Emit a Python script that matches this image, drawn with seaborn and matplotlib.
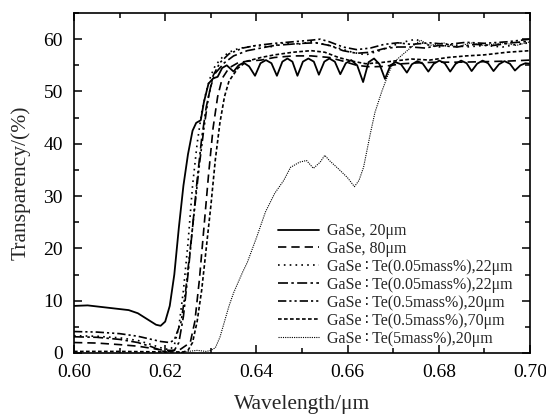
import numpy as np
import pandas as pd
import seaborn as sns
import matplotlib.pyplot as plt
from matplotlib.ticker import MultipleLocator

sns.set_style('ticks')
plt.rcParams['font.family'] = ['Liberation Serif', 'DejaVu Sans', 'Noto Sans CJK SC']

# GaSe, 20um (solid)
wl_a = [0.600, 0.603, 0.606, 0.609, 0.612, 0.614, 0.616, 0.618, 0.619, 0.620, 0.621, 0.622,
        0.623, 0.624, 0.625, 0.626, 0.6268, 0.6278, 0.6285, 0.6295, 0.6305, 0.6315, 0.6325,
        0.6335, 0.6350, 0.6361, 0.6372, 0.6384, 0.6397, 0.6409, 0.6421, 0.6433, 0.6445,
        0.6457, 0.6468, 0.6479, 0.6490, 0.6502, 0.6514, 0.6526, 0.6537, 0.6549, 0.6560,
        0.6572, 0.6584, 0.6596, 0.6608, 0.6621, 0.6634, 0.6646, 0.6658, 0.6670, 0.6682,
        0.6694, 0.6705, 0.6717, 0.6730, 0.6741, 0.6753, 0.6765, 0.6777, 0.6789, 0.6801,
        0.6813, 0.6825, 0.6837, 0.6849, 0.6861, 0.6872, 0.6884, 0.6896, 0.6908, 0.6920,
        0.6932, 0.6944, 0.6956, 0.6967, 0.6979, 0.6990, 0.7000]
tr_a = [9.0, 9.1, 8.8, 8.5, 8.2, 7.6, 6.5, 5.4, 5.2, 6.0, 9.0, 15.0,
        24.0, 32.0, 38.0, 42.5, 44.0, 44.5, 48.0, 51.5, 52.5, 52.8, 54.5,
        55.0, 53.8, 55.0, 55.5, 54.8, 53.0, 55.4, 56.0, 55.4, 53.0,
        55.7, 56.3, 55.7, 53.0, 55.7, 56.3, 55.7, 53.2, 55.7, 56.3,
        55.7, 53.3, 55.4, 56.0, 55.0, 51.8, 55.6, 56.3, 55.2, 52.4,
        55.0, 55.6, 55.2, 53.6, 55.2, 55.8, 55.3, 53.8, 55.3, 55.9,
        55.4, 53.8, 55.3, 55.9, 55.4, 53.9, 55.3, 55.9, 55.4, 53.9,
        55.2, 55.8, 55.3, 54.0, 55.0, 55.4, 55.3]

# GaSe, 80um (dashed)
wl_b = [0.600, 0.605, 0.610, 0.614, 0.617, 0.619, 0.621, 0.623, 0.6255, 0.6265, 0.6275,
        0.6285, 0.6295, 0.6305, 0.6315, 0.6325, 0.634, 0.636, 0.638, 0.641, 0.644, 0.648,
        0.652, 0.656, 0.659, 0.662, 0.665, 0.668, 0.672, 0.676, 0.680, 0.685, 0.690,
        0.695, 0.700]
tr_b = [2.0, 1.9, 1.6, 1.3, 0.9, 0.6, 0.5, 0.5, 2.0, 6.0, 14.0,
        24.0, 34.0, 43.0, 49.0, 52.5, 54.5, 55.5, 55.8, 56.0, 56.5, 56.8,
        56.8, 56.5, 55.8, 55.0, 54.7, 54.8, 55.3, 55.5, 55.6, 55.6, 55.7,
        55.8, 56.0]

# GaSe:Te(0.05mass%),22um (dotted)
wl_c = [0.600, 0.605, 0.610, 0.614, 0.617, 0.619, 0.621, 0.622, 0.623, 0.624, 0.625,
        0.626, 0.627, 0.628, 0.629, 0.630, 0.631, 0.6325, 0.634, 0.636, 0.638, 0.640,
        0.643, 0.646, 0.649, 0.652, 0.655, 0.658, 0.661, 0.664, 0.667, 0.670, 0.6725,
        0.675, 0.677, 0.680, 0.683, 0.686, 0.690, 0.694, 0.697, 0.700]
tr_c = [3.3, 3.2, 2.9, 2.4, 1.6, 1.0, 0.6, 1.5, 5.0, 12.0, 21.0,
        32.0, 40.0, 46.0, 50.0, 53.0, 55.0, 56.5, 57.5, 58.2, 58.5, 58.8,
        58.5, 59.3, 59.0, 59.5, 59.0, 58.3, 57.5, 57.0, 57.8, 58.8, 59.5,
        60.0, 59.0, 58.5, 59.0, 58.5, 58.8, 58.5, 59.0, 59.3]

# GaSe:Te(0.05mass%),22um (dash-dot)
wl_d = [0.600, 0.605, 0.610, 0.614, 0.617, 0.619, 0.620, 0.622, 0.623, 0.624, 0.625,
        0.626, 0.627, 0.628, 0.629, 0.630, 0.631, 0.633, 0.635, 0.638, 0.641, 0.644,
        0.647, 0.650, 0.653, 0.656, 0.659, 0.662, 0.665, 0.668, 0.671, 0.674, 0.677,
        0.680, 0.684, 0.688, 0.692, 0.696, 0.700]
tr_d = [3.1, 3.0, 2.6, 2.0, 1.2, 0.5, 0.2, 0.5, 2.0, 7.0, 15.0,
        24.0, 33.0, 41.0, 47.0, 51.0, 53.5, 55.5, 56.8, 57.8, 58.3, 58.8,
        59.0, 59.2, 59.3, 58.8, 57.8, 57.3, 57.5, 58.2, 58.5, 58.5, 58.3,
        58.8, 58.5, 59.0, 58.8, 59.3, 59.6]

# GaSe:Te(0.5mass%),20um (dash-dot-dot)
wl_e = [0.600, 0.605, 0.610, 0.614, 0.617, 0.619, 0.621, 0.622, 0.6235, 0.6245, 0.6255,
        0.6265, 0.6275, 0.6285, 0.6295, 0.6305, 0.632, 0.634, 0.637, 0.640, 0.644, 0.648,
        0.652, 0.654, 0.656, 0.659, 0.662, 0.665, 0.668, 0.671, 0.674, 0.678, 0.682,
        0.686, 0.690, 0.695, 0.700]
tr_e = [4.1, 4.0, 3.7, 3.2, 2.6, 2.2, 2.0, 2.5, 6.0, 12.0, 20.0,
        28.0, 36.0, 43.0, 49.0, 53.0, 55.5, 57.2, 58.3, 58.8, 59.2, 59.5,
        59.8, 60.0, 59.5, 58.5, 58.0, 58.3, 59.0, 59.3, 59.0, 59.3, 59.0,
        59.4, 59.2, 59.5, 60.0]

# GaSe:Te(0.5mass%),70um (short dashes)
wl_f = [0.600, 0.610, 0.620, 0.624, 0.625, 0.626, 0.627, 0.628, 0.629, 0.630, 0.631,
        0.632, 0.633, 0.634, 0.636, 0.638, 0.641, 0.644, 0.648, 0.652, 0.655, 0.658,
        0.661, 0.664, 0.667, 0.670, 0.674, 0.678, 0.682, 0.686, 0.690, 0.695, 0.700]
tr_f = [0.3, 0.3, 0.2, 0.2, 0.5, 2.0, 6.0, 12.0, 20.0, 28.0, 37.0,
        44.0, 49.0, 52.0, 54.5, 55.8, 56.5, 57.0, 57.5, 57.8, 57.5, 56.5,
        55.8, 55.3, 55.5, 55.8, 56.2, 56.0, 56.5, 56.8, 57.0, 57.5, 57.8]

# GaSe:Te(5mass%),20um (fine dots)
wl_g = [0.6225, 0.625, 0.627, 0.629, 0.630, 0.631, 0.632, 0.633, 0.634, 0.635, 0.636,
        0.637, 0.638, 0.640, 0.642, 0.644, 0.646, 0.6475, 0.6495, 0.651, 0.6525, 0.654,
        0.655, 0.656, 0.658, 0.660, 0.6615, 0.6625, 0.6635, 0.665, 0.666, 0.6675, 0.669,
        0.670, 0.672, 0.674, 0.676, 0.678, 0.681, 0.684, 0.687, 0.690, 0.694, 0.697, 0.700]
tr_g = [0.0, 0.3, 0.5, 0.3, 0.5, 1.0, 3.0, 6.0, 9.0, 11.5, 13.5,
        15.5, 17.3, 22.0, 27.0, 30.5, 33.0, 35.5, 36.5, 36.8, 35.3, 36.5,
        37.8, 36.8, 35.2, 33.5, 31.8, 33.0, 35.5, 42.0, 46.0, 50.0, 53.5,
        55.5, 57.0, 58.5, 59.8, 58.8, 59.3, 58.5, 59.3, 58.8, 59.3, 58.8, 59.5]

series = [
    ('GaSe, 20μm', wl_a, tr_a, '-', 1.3),
    ('GaSe, 80μm', wl_b, tr_b, (0, (5, 3)), 1.2),
    ('GaSe\u2009∶\u2009Te(0.05mass%),22μm', wl_c, tr_c, (0, (1, 2.5)), 1.2),
    ('GaSe\u2009∶\u2009Te(0.05mass%),22μm ', wl_d, tr_d, (0, (6, 2, 1.5, 2)), 1.2),
    ('GaSe\u2009∶\u2009Te(0.5mass%),20μm', wl_e, tr_e, (0, (5, 1.8, 1.3, 1.8, 1.3, 1.8)), 1.2),
    ('GaSe\u2009∶\u2009Te(0.5mass%),70μm', wl_f, tr_f, (0, (2.2, 1.4)), 1.2),
    ('GaSe\u2009∶\u2009Te(5mass%),20μm', wl_g, tr_g, (0, (1, 1)), 0.8),
]

fig = plt.figure(figsize=(5.46, 4.17), dpi=100)
ax = fig.add_axes([0.1355, 0.1535, 0.8352, 0.8153])

for name, x, y, ls, lw in series:
    df = pd.DataFrame({'wl': x, 'T': y})
    sns.lineplot(data=df, x='wl', y='T', ax=ax, color='black', linestyle=ls,
                 linewidth=lw, label=name.strip(), errorbar=None)

ax.set_xlim(0.60, 0.70)
ax.set_ylim(0, 65)
ax.xaxis.set_major_locator(MultipleLocator(0.02))
ax.xaxis.set_minor_locator(MultipleLocator(0.01))
ax.yaxis.set_major_locator(MultipleLocator(10))
ax.yaxis.set_minor_locator(MultipleLocator(5))
ax.xaxis.set_major_formatter(plt.FormatStrFormatter('%.2f'))
ax.tick_params(which='both', direction='in', top=True, right=True, width=1.1,
               labelsize=14, colors='black')
ax.tick_params(which='major', length=6)
ax.tick_params(which='minor', length=3.5)
ax.tick_params(axis='x', which='major', pad=8)
ax.tick_params(axis='y', which='major', pad=8)
ax.set_xlabel('Wavelength/μm', fontsize=15.5, labelpad=10)
ax.set_ylabel('Transparency/(%)', fontsize=15.5, labelpad=9)
for s in ax.spines.values():
    s.set_linewidth(1.2)
    s.set_color('black')

ax.legend(loc='lower right', bbox_to_anchor=(0.975, 0.0), frameon=False, fontsize=11.5,
          handlelength=2.6, labelspacing=0.12, handletextpad=0.45, borderaxespad=0.0)

fig.savefig('out.png', dpi=100)
